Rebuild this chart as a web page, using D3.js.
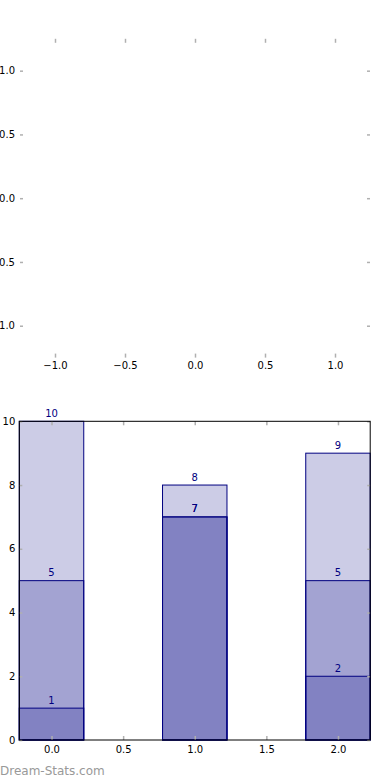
<!DOCTYPE html>
<html><head><meta charset="utf-8">
<script src="https://cdn.jsdelivr.net/npm/d3@7/dist/d3.min.js"></script>
<style>body{margin:0;background:#fff}svg{display:block} text{font-family:"DejaVu Sans",sans-serif}</style>
</head><body>
<script>
// Data
const categories = [0, 1, 2];
const seriesA = [10, 8, 9];
const seriesB = [5, 7, 5];
const seriesC = [1, 7, 2];
const series = [seriesA, seriesB, seriesC];
const topTicks = [-1.0, -0.5, 0.0, 0.5, 1.0];
const bottomXTicks = [0.0, 0.5, 1.0, 1.5, 2.0];
const bottomYTicks = [0, 2, 4, 6, 8, 10];

const W = 390, H = 780;
const FONT = "'DejaVu Sans', sans-serif";
const svg = d3.select("body").append("svg").attr("width", W).attr("height", H);

const tickColor = "#b0b0b0";
const fmt = d3.format(".1f");
const minus = s => s.replace("-", "\u2212");

function styleTicks(g) {
  g.attr("font-family", FONT);
  g.select(".domain").remove();
  g.selectAll(".tick line").attr("stroke", tickColor).attr("stroke-width", 1.5);
  g.selectAll(".tick text").attr("fill", "#000").style("font-size", "10px").style("font-family", FONT);
}

// ---- Top empty axes ----
const tx = d3.scaleLinear().domain([-1.25, 1.25]).range([20, 370]);
const ty = d3.scaleLinear().domain([-1.25, 1.25]).range([357.6, 38.8]);
const topG = svg.append("g");
topG.append("g").attr("transform", `translate(0,${ty.range()[0]})`)
  .call(d3.axisBottom(tx).tickValues(topTicks).tickSizeInner(-4).tickSizeOuter(0).tickPadding(4).tickFormat(d => minus(fmt(d))))
  .call(styleTicks);
topG.append("g").attr("transform", `translate(0,${ty.range()[1]})`)
  .call(d3.axisTop(tx).tickValues(topTicks).tickSizeInner(-4).tickSizeOuter(0).tickFormat(""))
  .call(styleTicks);
topG.append("g").attr("transform", `translate(${tx.range()[0]},0)`)
  .call(d3.axisLeft(ty).tickValues(topTicks).tickSizeInner(-3).tickSizeOuter(0).tickPadding(5).tickFormat(d => minus(fmt(d))))
  .call(styleTicks);
topG.append("g").attr("transform", `translate(${tx.range()[1]},0)`)
  .call(d3.axisRight(ty).tickValues(topTicks).tickSizeInner(-3).tickSizeOuter(0).tickFormat(""))
  .call(styleTicks);

// ---- Bottom bar chart ----
const barW = 0.45;
const bx = d3.scaleLinear().domain([-0.225, 2.225]).range([19.3, 370.2]);
const by = d3.scaleLinear().domain([0, 10]).range([740, 421.3]);
const botG = svg.append("g");

series.forEach(vals => {
  botG.selectAll(null).data(categories).enter().append("rect")
    .attr("x", d => bx(d - barW / 2))
    .attr("width", bx(barW) - bx(0))
    .attr("y", (d, i) => by(vals[i]))
    .attr("height", (d, i) => by(0) - by(vals[i]))
    .attr("fill", "navy").attr("fill-opacity", 0.2)
    .attr("stroke", "navy").attr("stroke-width", 1);
});

botG.append("g").attr("transform", `translate(0,${by(0)})`)
  .call(d3.axisBottom(bx).tickValues(bottomXTicks).tickSizeInner(-4).tickSizeOuter(0).tickPadding(5.5).tickFormat(d => fmt(d)))
  .call(styleTicks);
botG.append("g").attr("transform", `translate(0,${by(10)})`)
  .call(d3.axisTop(bx).tickValues(bottomXTicks).tickSizeInner(-4).tickSizeOuter(0).tickFormat(""))
  .call(styleTicks);
botG.append("g").attr("transform", `translate(${bx.range()[0]},0)`)
  .call(d3.axisLeft(by).tickValues(bottomYTicks).tickSizeInner(-3).tickSizeOuter(0).tickPadding(4).tickFormat(d3.format("d")))
  .call(styleTicks);
botG.append("g").attr("transform", `translate(${bx.range()[1]},0)`)
  .call(d3.axisRight(by).tickValues(bottomYTicks).tickSizeInner(-3).tickSizeOuter(0).tickFormat(""))
  .call(styleTicks);

botG.append("rect")
  .attr("x", bx.range()[0]).attr("y", by(10))
  .attr("width", bx.range()[1] - bx.range()[0]).attr("height", by(0) - by(10))
  .attr("fill", "none").attr("stroke", "#000").attr("stroke-width", 1);

series.forEach(vals => {
  botG.selectAll(null).data(categories).enter().append("text")
    .attr("x", d => bx(d))
    .attr("y", (d, i) => by(vals[i]) - 4.5)
    .attr("text-anchor", "middle")
    .attr("fill", "navy")
    .style("font-size", "10px").style("font-family", FONT)
    .text((d, i) => vals[i]);
});

svg.append("text").attr("x", 0).attr("y", 775)
  .attr("fill", "#999").style("font-size", "12px").style("font-family", FONT)
  .text("Dream-Stats.com");
</script>
</body></html>
